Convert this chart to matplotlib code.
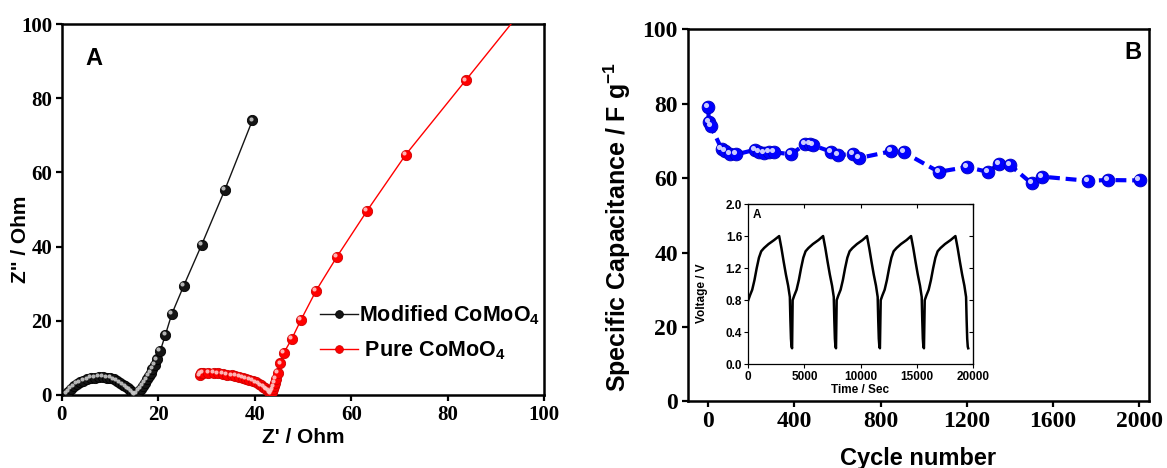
import matplotlib
matplotlib.use("Agg")
import matplotlib.pyplot as plt
from matplotlib import transforms
from matplotlib.ticker import FormatStrFormatter

# EIS data (Nyquist)
mod_zre = [1.0, 1.4, 1.9, 2.5, 3.1, 3.8, 4.5, 5.3, 6.1, 6.9, 7.7, 8.5, 9.3, 10.1,
           10.8, 11.5, 12.1, 12.7, 13.2, 13.7, 14.1, 14.5, 14.9, 15.2, 15.6, 16.0,
           16.4, 16.8, 17.2, 17.6, 18.0, 18.4, 18.8, 19.3, 19.8, 20.4, 21.5, 22.8,
           25.3, 29.0, 33.8, 39.5]
mod_zim = [0.3, 0.9, 1.6, 2.3, 2.9, 3.4, 3.8, 4.2, 4.5, 4.7, 4.8, 4.8, 4.7, 4.5,
           4.2, 3.8, 3.3, 2.8, 2.3, 1.8, 1.3, 0.8, 0.4, 0.1, 0.4, 1.0,
           1.7, 2.5, 3.3, 4.2, 5.1, 6.0, 7.0, 8.2, 9.6, 11.8, 16.3, 21.8,
           29.5, 40.5, 55.3, 74.0]

pure_zre = [28.6, 28.8, 29.2, 30.4, 31.5, 32.4, 33.4, 34.3, 35.2, 36.0, 36.8, 37.5,
            38.2, 38.9, 39.6, 40.2, 40.8, 41.3, 41.8, 42.2, 42.6, 42.9, 43.1, 43.3,
            43.5, 43.7, 43.9, 44.1, 44.4, 44.8, 45.3, 46.0, 47.7, 49.6, 52.7, 57.0,
            63.3, 71.3, 83.7, 97.0]
pure_zim = [5.3, 5.8, 6.0, 5.9, 5.9, 5.8, 5.7, 5.5, 5.3, 5.1, 4.8, 4.6,
            4.3, 4.0, 3.7, 3.4, 3.0, 2.6, 2.2, 1.8, 1.4, 1.0, 0.6, 0.3,
            0.8, 1.5, 2.3, 3.2, 4.4, 5.9, 8.5, 11.3, 15.2, 20.3, 28.1, 37.2,
            49.7, 64.8, 84.8, 106.3]

# cycling stability
cycles = [0, 3, 12, 62, 80, 103, 130, 216, 236, 259, 282, 306, 384, 449, 472, 488,
          571, 603, 673, 700, 847, 910, 1070, 1200, 1298, 1350, 1401, 1501, 1551,
          1763, 1854, 2002]
capacitance = [79.2, 75.0, 74.0, 67.9, 67.4, 66.5, 66.4, 67.6, 67.0, 66.7, 66.9, 67.0,
               66.4, 69.1, 69.2, 68.8, 67.1, 66.2, 66.5, 65.4, 67.2, 66.9, 61.7, 63.0,
               61.7, 63.8, 63.5, 58.6, 60.4, 59.3, 59.5, 59.4]

# charge-discharge inset
gcd_time = [0, 150, 350, 550, 750, 950, 1150, 1400, 1800, 2300, 2750, 2950, 3150,
            3350, 3550, 3700, 3750, 3800, 3850, 3900, 3950,
            4100, 4300, 4500, 4700, 4900, 5100, 5350, 5750, 6250, 6660, 6860, 7060,
            7260, 7460, 7610, 7660, 7710, 7760, 7810, 7870,
            8020, 8220, 8420, 8620, 8820, 9020, 9270, 9670, 10170, 10570, 10770, 10970,
            11170, 11370, 11520, 11570, 11620, 11670, 11720, 11790,
            11940, 12140, 12340, 12540, 12740, 12940, 13190, 13590, 14090, 14490, 14690,
            14890, 15090, 15290, 15440, 15490, 15540, 15590, 15640, 15710,
            15860, 16060, 16260, 16460, 16660, 16860, 17110, 17510, 18010, 18440, 18640,
            18840, 19040, 19240, 19390, 19440, 19490, 19540, 19580]
gcd_volt = [0.80, 0.86, 0.93, 1.05, 1.20, 1.33, 1.41, 1.45, 1.50, 1.55, 1.60, 1.45, 1.28,
            1.12, 0.98, 0.84, 0.55, 0.32, 0.22, 0.20, 0.80,
            0.86, 0.93, 1.05, 1.20, 1.33, 1.41, 1.45, 1.50, 1.55, 1.60, 1.45, 1.28,
            1.12, 0.98, 0.84, 0.55, 0.32, 0.22, 0.20, 0.80,
            0.86, 0.93, 1.05, 1.20, 1.33, 1.41, 1.45, 1.50, 1.55, 1.60, 1.45, 1.28,
            1.12, 0.98, 0.84, 0.55, 0.32, 0.22, 0.20, 0.80,
            0.86, 0.93, 1.05, 1.20, 1.33, 1.41, 1.45, 1.50, 1.55, 1.60, 1.45,
            1.28, 1.12, 0.98, 0.84, 0.55, 0.32, 0.22, 0.20, 0.80,
            0.86, 0.93, 1.05, 1.20, 1.33, 1.41, 1.45, 1.50, 1.55, 1.60, 1.45,
            1.28, 1.12, 0.98, 0.84, 0.55, 0.32, 0.22, 0.20]

plt.rcParams['mathtext.fontset'] = 'custom'
plt.rcParams['mathtext.bf'] = 'Liberation Sans:bold'
plt.rcParams['mathtext.rm'] = 'Liberation Sans'

SANS = 'Liberation Sans'
SERIF = 'Liberation Serif'

fig = plt.figure(figsize=(11.67, 4.68), dpi=100)
ax1 = fig.add_axes([0.0529, 0.156, 0.4135, 0.7927])
ax2 = fig.add_axes([0.5893, 0.1421, 0.3955, 0.7953])
ax3 = fig.add_axes([0.6412, 0.2216, 0.1925, 0.3425])


def balls(ax, x, y, body, edge, shine, size, dx=-1.3, dy=1.3, lw=1.0, ls='-', label=None):
    # shaded sphere look: body marker plus a small offset highlight
    ax.plot(x, y, color=body, lw=lw, ls=ls, marker='o', ms=size, mfc=body, mec=edge,
            mew=0.6, label=label, zorder=3)
    off = transforms.offset_copy(ax.transData, fig=fig, x=dx, y=dy, units='points')
    ax.plot(x, y, ls='none', marker='o', ms=size * 0.4, mfc=shine, mec='none',
            transform=off, zorder=4, alpha=0.9)


def style(ax, size, width=1.8):
    for s in ax.spines.values():
        s.set_linewidth(width)
    ax.tick_params(direction='out', length=4, width=1.6, labelsize=size, pad=3)
    for t in ax.get_xticklabels() + ax.get_yticklabels():
        t.set_fontfamily(SERIF)
        t.set_fontweight('bold')


# ---- panel A
balls(ax1, mod_zre, mod_zim, '#151515', '#000000', '#c8c8c8', 7.4,
      label='Modified CoMoO$_\\mathbf{4}$')
balls(ax1, pure_zre, pure_zim, '#ff0000', '#d00000', '#ffc8c8', 7.4,
      label=' Pure CoMoO$_\\mathbf{4}$')
ax1.set_xlim(0, 100)
ax1.set_ylim(0, 100)
ax1.set_xticks(range(0, 101, 20))
ax1.set_yticks(range(0, 101, 20))
style(ax1, 15)
ax1.set_xlabel("Z' / Ohm", fontsize=15, fontweight='bold', fontfamily=SANS)
ax1.set_ylabel('Z" / Ohm', fontsize=15, fontweight='bold', fontfamily=SANS)
ax1.xaxis.set_label_coords(0.5, -0.088)
ax1.yaxis.set_label_coords(-0.066, 0.42)
ax1.text(0.067, 0.908, 'A', transform=ax1.transAxes, fontsize=17, fontweight='bold',
         fontfamily=SANS, ha='center', va='center')
h, l = ax1.get_legend_handles_labels()
ax1.legend(h, l, loc='upper left', bbox_to_anchor=(0.513, 0.275), frameon=False,
           prop={'family': SANS, 'weight': 'bold', 'size': 15.5},
           handlelength=1.75, handletextpad=0.05, labelspacing=0.55,
           borderpad=0, markerscale=0.75)

# ---- panel B
balls(ax2, cycles, capacitance, '#0000ff', '#0000c0', '#e4e4ff', 9.2, lw=3.0,
      ls=(0, (2.6, 1.4)), dx=-1.5, dy=1.5)
ax2.set_xlim(-95, 2047)
ax2.set_ylim(0, 100)
ax2.set_xticks(range(0, 2001, 400))
ax2.set_yticks(range(0, 101, 20))
style(ax2, 17)
ax2.set_xlabel('Cycle number', fontsize=17, fontweight='bold', fontfamily=SANS)
ax2.set_ylabel('Specific Capacitance / F g$^{\\mathbf{-1}}$', fontsize=18,
               fontweight='bold', fontfamily=SANS)
ax2.xaxis.set_label_coords(0.499, -0.122)
ax2.yaxis.set_label_coords(-0.118, 0.47)
ax2.text(0.965, 0.939, 'B', transform=ax2.transAxes, fontsize=17, fontweight='bold',
         fontfamily=SANS, ha='center', va='center')

# ---- inset
ax3.plot(gcd_time, gcd_volt, color='black', lw=1.8)
ax3.set_xlim(0, 20000)
ax3.set_ylim(0, 2.0)
ax3.set_xticks(range(0, 20001, 5000))
ax3.set_yticks([0.0, 0.4, 0.8, 1.2, 1.6, 2.0])
ax3.yaxis.set_major_formatter(FormatStrFormatter('%.1f'))
for s in ax3.spines.values():
    s.set_linewidth(0.9)
ax3.tick_params(direction='out', length=3, width=0.8, labelsize=8.5, pad=1.5)
top = ax3.secondary_xaxis('top')
top.set_xticks(range(0, 20001, 5000))
top.tick_params(direction='in', length=3, width=0.8, labeltop=False)
right = ax3.secondary_yaxis('right')
right.set_yticks([0.0, 0.4, 0.8, 1.2, 1.6, 2.0])
right.tick_params(direction='in', length=3, width=0.8, labelright=False)
for t in ax3.get_xticklabels() + ax3.get_yticklabels():
    t.set_fontfamily(SANS)
    t.set_fontweight('bold')
ax3.set_xlabel('Time / Sec', fontsize=8.5, fontweight='bold', fontfamily=SANS)
ax3.set_ylabel('Voltage / V', fontsize=8.5, fontweight='bold', fontfamily=SANS)
ax3.xaxis.set_label_coords(0.497, -0.125)
ax3.yaxis.set_label_coords(-0.18, 0.445)
ax3.text(0.037, 0.93, 'A', transform=ax3.transAxes, fontsize=8.5, fontweight='bold',
         fontfamily=SANS, ha='center', va='center')

fig.savefig('out.png', dpi=100)
